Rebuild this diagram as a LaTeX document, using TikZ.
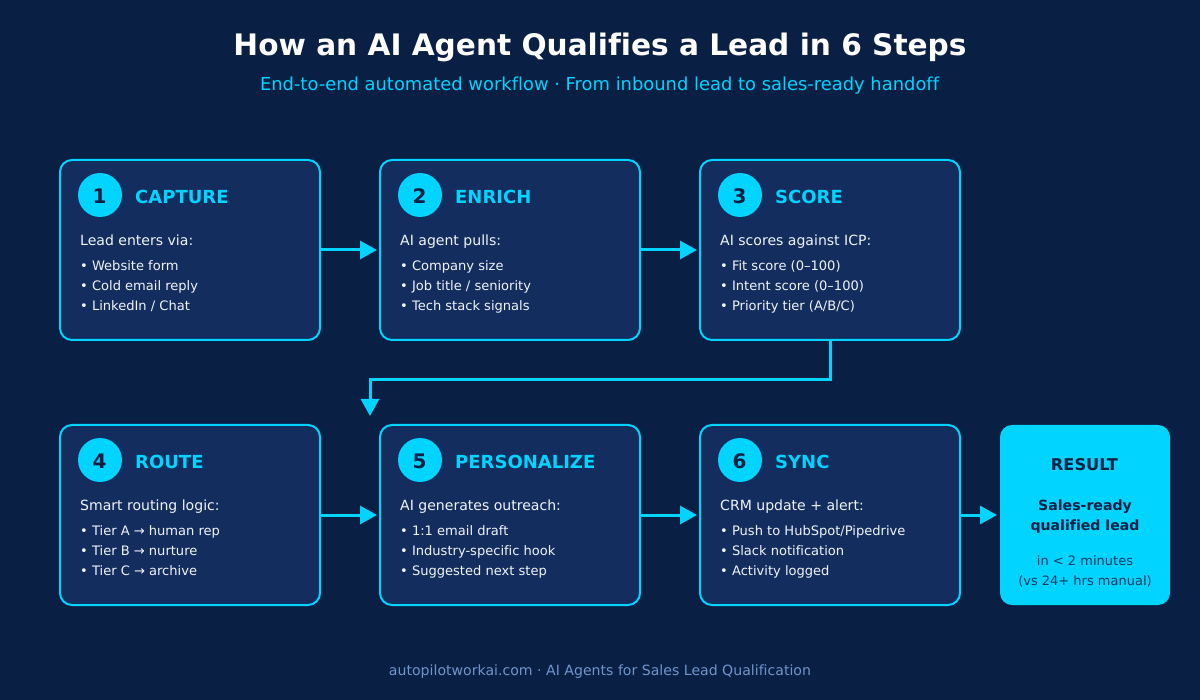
\documentclass[tikz,border=0pt]{standalone}
\usepackage{fontspec}
\setmainfont[Ligatures=NoCommon]{DejaVu Sans}
\usepackage{xcolor}
\usetikzlibrary{arrows.meta}
\definecolor{bgnavy}{HTML}{0A1F44}
\definecolor{boxnavy}{HTML}{132D5E}
\definecolor{agentcyan}{HTML}{00D4FF}
\definecolor{bodytext}{HTML}{F0F4F8}
\definecolor{footertext}{HTML}{7094CC}
\tikzset{
  stepbox/.style={draw=agentcyan, fill=boxnavy, line width=2pt, rounded corners=12pt, minimum width=260pt, minimum height=180pt, outer sep=0pt, inner sep=0pt},
  resultbox/.style={fill=agentcyan, rounded corners=12pt, minimum width=170pt, minimum height=180pt, outer sep=0pt, inner sep=0pt},
  numdot/.style={fill=agentcyan, circle, minimum size=44pt, inner sep=0pt},
  numtext/.style={anchor=base, inner sep=0pt, text=bgnavy, font=\fontsize{20}{20}\selectfont\bfseries},
  steptitle/.style={anchor=base west, inner sep=0pt, text=agentcyan, font=\fontsize{18}{18}\selectfont\bfseries},
  leadline/.style={anchor=base west, inner sep=0pt, text=bodytext, font=\fontsize{14.05}{14}\selectfont},
  itemline/.style={anchor=base west, inner sep=0pt, text=bodytext, font=\fontsize{13.05}{13}\selectfont},
  flow/.style={draw=agentcyan, line width=3pt, -{Triangle[length=17pt,width=18pt]}, shorten >=3pt},
}
\begin{document}
\begin{tikzpicture}[x=1pt,y=-1pt]
\useasboundingbox[fill=bgnavy] (0,0) rectangle (1200,700);
\node[anchor=base, inner sep=0pt, text=white, font=\fontsize{29.6}{30}\selectfont\bfseries] (title) at (600,55.5) {How an AI Agent Qualifies a Lead in 6 Steps};
\node[anchor=base, inner sep=0pt, text=agentcyan, font=\fontsize{17.9}{18}\selectfont] (subtitle) at (599.5,90.5) {End-to-end automated workflow · From inbound lead to sales-ready handoff};

% top row
\node[stepbox] (capture) at (190,250) {};
\node[numdot] (dot1) at (100,195) {};
\node[numtext] (num1) at (99.5,204) {1};
\node[steptitle] (title1) at (135,204) {CAPTURE};
\node[leadline] (lead1) at (80,245.5) {Lead enters via:};
\node[itemline] (item1a) at (80,270.5) {• Website form};
\node[itemline] (item1b) at (80,290.5) {• Cold email reply};
\node[itemline] (item1c) at (80,310.5) {• LinkedIn / Chat};

\node[stepbox] (enrich) at (510,250) {};
\node[numdot] (dot2) at (420,195) {};
\node[numtext] (num2) at (419.5,204) {2};
\node[steptitle] (title2) at (455,204) {ENRICH};
\node[leadline] (lead2) at (400,245.5) {AI agent pulls:};
\node[itemline] (item2a) at (400,270.5) {• Company size};
\node[itemline] (item2b) at (400,290.5) {• Job title / seniority};
\node[itemline] (item2c) at (400,310.5) {• Tech stack signals};

\node[stepbox] (score) at (830,250) {};
\node[numdot] (dot3) at (740,195) {};
\node[numtext] (num3) at (739.5,204) {3};
\node[steptitle] (title3) at (775,204) {SCORE};
\node[leadline] (lead3) at (720,245.5) {AI scores against ICP:};
\node[itemline] (item3a) at (720,270.5) {• Fit score (0–100)};
\node[itemline] (item3b) at (720,290.5) {• Intent score (0–100)};
\node[itemline] (item3c) at (720,310.5) {• Priority tier (A/B/C)};

% bottom row
\node[stepbox] (route) at (190,515) {};
\node[numdot] (dot4) at (100,460) {};
\node[numtext] (num4) at (99.5,469) {4};
\node[steptitle] (title4) at (135,469) {ROUTE};
\node[leadline] (lead4) at (80,510.5) {Smart routing logic:};
\node[itemline] (item4a) at (80,535.5) {• Tier A → human rep};
\node[itemline] (item4b) at (80,555.5) {• Tier B → nurture};
\node[itemline] (item4c) at (80,575.5) {• Tier C → archive};

\node[stepbox] (personalize) at (510,515) {};
\node[numdot] (dot5) at (420,460) {};
\node[numtext] (num5) at (419.5,469) {5};
\node[steptitle] (title5) at (455,469) {PERSONALIZE};
\node[leadline] (lead5) at (400,510.5) {AI generates outreach:};
\node[itemline] (item5a) at (400,535.5) {• 1:1 email draft};
\node[itemline] (item5b) at (400,555.5) {• Industry-specific hook};
\node[itemline] (item5c) at (400,575.5) {• Suggested next step};

\node[stepbox] (sync) at (830,515) {};
\node[numdot] (dot6) at (740,460) {};
\node[numtext] (num6) at (739.5,469) {6};
\node[steptitle] (title6) at (775,469) {SYNC};
\node[leadline] (lead6) at (720,510.5) {CRM update + alert:};
\node[itemline] (item6a) at (720,535.5) {• Push to HubSpot/Pipedrive};
\node[itemline] (item6b) at (720,555.5) {• Slack notification};
\node[itemline] (item6c) at (720,575.5) {• Activity logged};

\node[resultbox] (result) at (1085,515) {};
\node[anchor=base, inner sep=0pt, text=bgnavy, font=\fontsize{16.2}{16}\selectfont\bfseries] (resulthead) at (1084.5,470.5) {RESULT};
\node[anchor=base, inner sep=0pt, text=bgnavy, font=\fontsize{14.1}{14}\selectfont\bfseries] (resulta) at (1085,510.5) {Sales-ready};
\node[anchor=base, inner sep=0pt, text=bgnavy, font=\fontsize{14.1}{14}\selectfont\bfseries] (resultb) at (1085,530.5) {qualified lead};
\node[anchor=base, inner sep=0pt, text=bgnavy!85!agentcyan, font=\fontsize{13}{13}\selectfont] (resultc) at (1085,565.5) {in < 2 minutes};
\node[anchor=base, inner sep=0pt, text=bgnavy!85!agentcyan, font=\fontsize{13}{13}\selectfont] (resultd) at (1085,585.5) {(vs 24+ hrs manual)};

\node[anchor=base, inner sep=0pt, text=footertext, font=\fontsize{14.1}{14}\selectfont] (footer) at (600,675.5) {autopilotworkai.com · AI Agents for Sales Lead Qualification};

% connectors
\coordinate (elbowend) at (370,419);
\draw[flow] (capture.east) -- (enrich.west);
\draw[flow] (enrich.east) -- (score.west);
\draw[flow] (score.south) -- (830,380) -- (370,380) -- (elbowend);
\draw[flow] (route.east) -- (personalize.west);
\draw[flow] (personalize.east) -- (sync.west);
\draw[flow] (sync.east) -- (result.west);
\end{tikzpicture}
\end{document}
